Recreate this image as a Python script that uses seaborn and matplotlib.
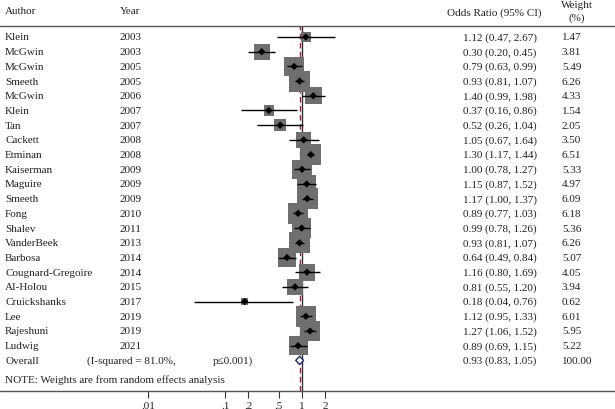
import matplotlib
matplotlib.use("Agg")
import matplotlib.pyplot as plt
import matplotlib.transforms as mtransforms
from matplotlib.lines import Line2D
import numpy as np
import pandas as pd
import seaborn as sns

# Study-level data
authors = ["Klein", "McGwin", "McGwin", "Smeeth", "McGwin", "Klein", "Tan",
           "Cackett", "Etminan", "Kaiserman", "Maguire", "Smeeth", "Fong",
           "Shalev", "VanderBeek", "Barbosa", "Cougnard-Gregoire", "AI-Holou",
           "Cruickshanks", "Lee", "Rajeshuni", "Ludwig"]
years = [2003, 2003, 2005, 2005, 2006, 2007, 2007, 2008, 2008, 2009, 2009,
         2009, 2010, 2011, 2013, 2014, 2014, 2015, 2017, 2019, 2019, 2021]
odds = [1.12, 0.30, 0.79, 0.93, 1.40, 0.37, 0.52, 1.05, 1.30, 1.00, 1.15,
        1.17, 0.89, 0.99, 0.93, 0.64, 1.16, 0.81, 0.18, 1.12, 1.27, 0.89]
ci_low = [0.47, 0.20, 0.63, 0.81, 0.99, 0.16, 0.26, 0.67, 1.17, 0.78, 0.87,
          1.00, 0.77, 0.78, 0.81, 0.49, 0.80, 0.55, 0.04, 0.95, 1.06, 0.69]
ci_high = [2.67, 0.45, 0.99, 1.07, 1.98, 0.86, 1.04, 1.64, 1.44, 1.27, 1.52,
           1.37, 1.03, 1.26, 1.07, 0.84, 1.69, 1.20, 0.76, 1.33, 1.52, 1.15]
weights = [1.47, 3.81, 5.49, 6.26, 4.33, 1.54, 2.05, 3.50, 6.51, 5.33, 4.97,
           6.09, 6.18, 5.36, 6.26, 5.07, 4.05, 3.94, 0.62, 6.01, 5.95, 5.22]

overall_or, overall_lo, overall_hi = 0.93, 0.83, 1.05
i_squared = "81.0%"
tick_vals = [0.01, 0.1, 0.2, 0.5, 1, 2]
tick_labels = [".01", ".1", ".2", ".5", "1", "2"]

df = pd.DataFrame({"author": authors, "year": years, "or": odds,
                   "lo": ci_low, "hi": ci_high, "w": weights})
df["row"] = np.arange(len(df))
overall_row = len(df)

sns.set_style("white")
plt.rcParams["font.family"] = ["Liberation Serif", "DejaVu Serif"]
TXT = "#222222"

W, H = 615, 410
fig = plt.figure(figsize=(W / 100, H / 100), dpi=100)

# forest panel: log axis placed so .01 -> 148px and 1 -> 302px
px_dec = 77.0
x_left, x_right = 100.0, 350.0
lo_lim = 10 ** (-2 + (x_left - 148) / px_dec)
hi_lim = 10 ** ((x_right - 302) / px_dec)
row_h = 14.7
y_top, y_bot = 27.0, 392.0
ax = fig.add_axes([x_left / W, 1 - y_bot / H, (x_right - x_left) / W, (y_bot - y_top) / H])
ax.set_xscale("log")
ax.set_xlim(lo_lim, hi_lim)
ax.set_ylim((y_bot - 38) / row_h, (y_top - 38) / row_h)

ax.axvline(1, color="#333333", lw=1.0, zorder=1)
ax.axvline(overall_or, color="#9b2335", lw=1.0, ls=(0, (4, 2.5)), zorder=1)

# weighted squares (area proportional to weight)
k = 36.0
sns.scatterplot(data=df, x="or", y="row", size="w", marker="s",
                sizes=(k * df["w"].min(), k * df["w"].max()),
                size_norm=(df["w"].min(), df["w"].max()),
                color="#6f6f6f", edgecolor="none", legend=False, ax=ax, zorder=2)
ax.hlines(df["row"], df["lo"], df["hi"], color="black", lw=1.0, zorder=3)
sns.scatterplot(data=df, x="or", y="row", marker="D", s=14, color="black",
                edgecolor="none", legend=False, ax=ax, zorder=4)

# overall diamond
dh = 0.28
ax.fill([overall_lo, overall_or, overall_hi, overall_or],
        [overall_row, overall_row - dh, overall_row, overall_row + dh],
        facecolor="white", edgecolor="#1f2a6e", lw=1.0, zorder=5)

ax.set_xticks(tick_vals)
ax.set_xticklabels(tick_labels)
ax.minorticks_off()
ax.tick_params(axis="x", direction="out", length=5, width=0.8, color="#333333",
               labelsize=8, labelcolor=TXT, pad=2, bottom=True)
ax.set_yticks([])
ax.set_xlabel("")
ax.set_ylabel("")
for s in ax.spines.values():
    s.set_visible(False)
ax.patch.set_alpha(0)

# full-width rules
for yp, c in [(y_top, "#555555"), (y_bot, "#555555")]:
    fig.add_artist(Line2D([0, 1], [1 - yp / H] * 2, color=c, lw=1.0,
                          transform=fig.transFigure))

# text columns
tr = mtransforms.blended_transform_factory(fig.transFigure, ax.transData)
fs = 8
for _, r in df.iterrows():
    y = r["row"]
    ax.text(5 / W, y, r["author"], transform=tr, fontsize=fs, color=TXT, va="center", ha="left")
    ax.text(120 / W, y, str(r["year"]), transform=tr, fontsize=fs, color=TXT, va="center", ha="left")
    ax.text(500 / W, y, f"{r['or']:.2f} ({r['lo']:.2f}, {r['hi']:.2f})", transform=tr,
            fontsize=fs, color=TXT, va="center", ha="center")
    ax.text(562 / W, y, f"{r['w']:.2f}", transform=tr, fontsize=fs, color=TXT, va="center", ha="left")

y = overall_row
ax.text(5 / W, y, "Overall", transform=tr, fontsize=fs, color=TXT, va="center")
ax.text(87 / W, y, f"(I-squared = {i_squared},", transform=tr, fontsize=fs, color=TXT, va="center")
ax.text(213 / W, y, "p≤0.001)", transform=tr, fontsize=fs, color=TXT, va="center")
ax.text(500 / W, y, f"{overall_or:.2f} ({overall_lo:.2f}, {overall_hi:.2f})", transform=tr,
        fontsize=fs, color=TXT, va="center", ha="center")
ax.text(562 / W, y, f"{sum(weights) / sum(weights) * 100:.2f}", transform=tr, fontsize=fs,
        color=TXT, va="center")
ax.text(5 / W, (380 - 38) / row_h, "NOTE: Weights are from random effects analysis",
        transform=tr, fontsize=fs, color=TXT, va="center")

# header
fig.text(5 / W, 1 - 12 / H, "Author", fontsize=fs, color=TXT, va="center")
fig.text(120 / W, 1 - 12 / H, "Year", fontsize=fs, color=TXT, va="center")
fig.text(494 / W, 1 - 13 / H, "Odds Ratio (95% CI)", fontsize=fs, color=TXT, va="center", ha="center")
fig.text(577 / W, 1 - 5 / H, "Weight", fontsize=fs, color=TXT, va="center", ha="center")
fig.text(577 / W, 1 - 18 / H, "(%)", fontsize=fs, color=TXT, va="center", ha="center")

fig.savefig("out.png", dpi=100)
